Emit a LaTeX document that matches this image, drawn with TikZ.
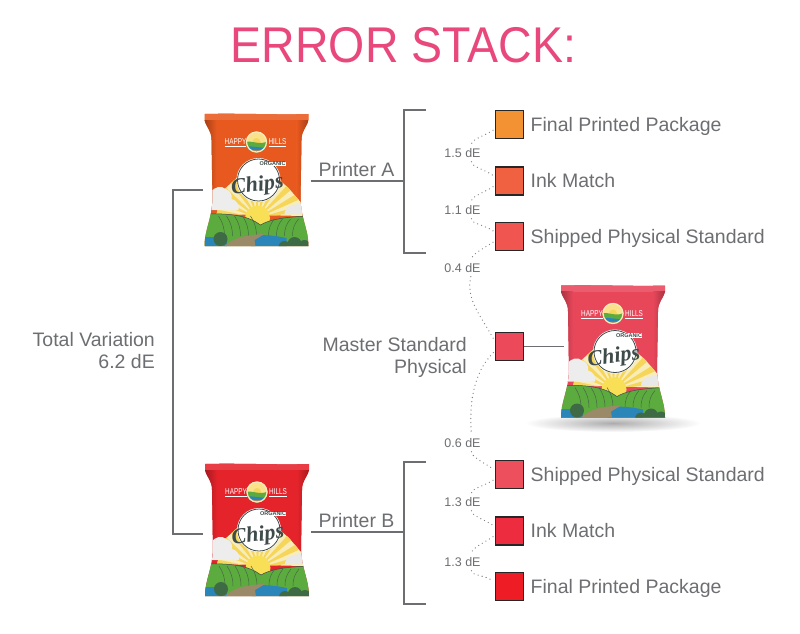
\documentclass[tikz,border=0pt]{standalone}
\usepackage{fontspec}
\setmainfont{Liberation Sans}
\newfontfamily\chipsfont{Liberation Serif}
\usepackage{xcolor}
\usetikzlibrary{positioning,calc}
\definecolor{textgray}{HTML}{6D6E71}
\definecolor{titlepink}{HTML}{E8487C}
\definecolor{hillgreen}{HTML}{5CAB3E}
\definecolor{raygold}{HTML}{F6D65A}
\definecolor{raypale}{HTML}{F8EDB8}
\definecolor{sunyellow}{HTML}{F9DF55}
\definecolor{inkdark}{HTML}{3F4A4A}
\definecolor{bagorange}{HTML}{E8591F}
\definecolor{bagred}{HTML}{E5232B}
\definecolor{bagrose}{HTML}{E8475A}
\definecolor{bushgreen}{HTML}{3E6B45}
\definecolor{waterblue}{HTML}{2A86B8}
\definecolor{roadbrown}{HTML}{9A8A68}
\newcommand{\bagoutline}{(-52,-66) .. controls (-20,-67) and (20,-65) .. (52,-66) -- (52,-60) .. controls (50,-52) and (45,-50) .. (45,-40) -- (44,20) .. controls (45,40) and (52,50) .. (52,66) -- (-52,66) .. controls (-52,50) and (-45,40) .. (-44,20) -- (-45,-40) .. controls (-45,-50) and (-50,-52) .. (-52,-60) -- cycle}
\tikzset{
    pics/chipbag/.style={code={
        \fill[#1] \bagoutline;
        \begin{scope}
            \clip \bagoutline;
            \fill[#1!88!white] (-52,-67) rectangle (52,-60);
            \shade[left color=#1!72!black, right color=#1] (-52,-60) rectangle (-40,30);
            \shade[left color=#1, right color=#1!72!black] (40,-60) rectangle (52,30);
            \begin{scope}
                \clip (-40,34) -- (-33,10) -- (0,-20) -- (32,8) -- (44,22) -- (46,36) -- cycle;
                \fill[raypale] (-46,40) rectangle (46,-22);
                \foreach \a in {8,24,...,168}
                    \fill[raygold] (1,38) -- +(-\a:70) -- +(-\a-8:70) -- cycle;
            \end{scope}
            \fill[white!86!gray] (-46,30) -- (-46,12) .. controls (-42,7) and (-35,5) .. (-31,9) .. controls (-27,10) and (-24,14) .. (-25,19) .. controls (-20,20) and (-17,25) .. (-18,30) -- cycle;
            \fill[white!82!gray] (28,34) .. controls (28,27) and (36,24) .. (46,24) -- (46,34) -- cycle;
            \fill[sunyellow] (1,38) circle (12.5);
            \fill[hillgreen] (-52,34) .. controls (-25,33) and (-8,36) .. (4,45) .. controls (12,40) and (26,37) .. (52,36) -- (52,67) -- (-52,67) -- cycle;
            \draw[inkdark, line width=0.5pt] (-52,34) .. controls (-25,33) and (-8,36) .. (4,45) .. controls (12,40) and (26,37) .. (52,36);
            \foreach \s in {-38,-30,...,-6}
                \draw[inkdark!70!hillgreen, line width=0.5pt] (\s,36) .. controls (\s+4,42) and (\s+6,48) .. (\s+6,56);
            \foreach \s in {18,26,...,44}
                \draw[inkdark!70!hillgreen, line width=0.5pt] (\s,39) .. controls (\s-4,44) and (\s-6,48) .. (\s-6,56);
            \fill[waterblue] (-52,57) rectangle (-30,67);
            \fill[waterblue] (-10,56) .. controls (10,54) and (20,56) .. (30,58) -- (30,67) -- (-5,67) -- cycle;
            \fill[roadbrown] (-33,67) .. controls (-25,59) and (-15,55) .. (8,54) -- (-2,60) -- (-1,67) -- cycle;
            \fill[bushgreen] (-36,59) circle (7);
            \fill[bushgreen] (28,67) circle (6) (38,64) circle (7) (48,66) circle (6);
        \end{scope}
        \fill[white] (2,0) circle (22);
        \draw[inkdark, line width=0.8pt] (2,0) circle (21);
        \node[font=\chipsfont\bfseries\itshape\fontsize{22}{22}\selectfont, text=inkdark, rotate=8, inner sep=0pt] (-chips) at (1,6) {Chips};
        \node[font=\bfseries\fontsize{5.5}{6}\selectfont, text=inkdark, fill=white, inner sep=0.5pt] (-organic) at (16,-16) {ORGANIC};
        \node[font=\fontsize{8.5}{9}\selectfont, text=white, xscale=0.75, inner sep=0pt] (-happy) at (-21,-37) {\underline{HAPPY}};
        \node[font=\fontsize{8.5}{9}\selectfont, text=white, xscale=0.75, inner sep=0pt] (-hills) at (21,-37) {\underline{HILLS}};
        \begin{scope}
            \clip (0,-38) circle (10.5);
            \fill[raygold!70!white] (-11,-49) rectangle (11,-27);
            \fill[raygold] (0,-38) circle (4);
            \fill[hillgreen] (-11,-38) .. controls (-4,-40) and (4,-34) .. (11,-39) -- (11,-27) -- (-11,-27) -- cycle;
            \fill[waterblue] (-11,-33) .. controls (-3,-35) and (4,-31) .. (11,-33) -- (11,-30) -- (-11,-30) -- cycle;
            \fill[roadbrown] (-11,-30) rectangle (11,-27);
        \end{scope}
        \draw[raypale, line width=1.2pt] (0,-38) circle (10);
    }}
}
\begin{document}
\begin{tikzpicture}[
    x=1pt, y=-1pt,
    swatch/.style={rectangle, draw=black!85, line width=1.5pt, minimum size=28pt, inner sep=0pt, outer sep=0pt},
    swatchtext/.style={text=textgray, inner sep=0pt, text height=16pt, text depth=3pt, font=\fontsize{19.5}{22}\selectfont},
    sidetext/.style={text=textgray, align=right, anchor=east, inner sep=0pt, font=\fontsize{19.5}{22}\selectfont},
    printertext/.style={above=0.5pt, xshift=-1pt, text=textgray, font=\fontsize{19.5}{22}\selectfont},
    delta/.style={text=textgray, inner sep=1pt, font=\fontsize{12.5}{14}\selectfont},
    bracket/.style={draw=textgray, line width=1.7pt},
    dotlink/.style={draw=gray, line width=1.3pt, dash pattern=on 0pt off 4.2pt, line cap=round, shorten <=3pt, shorten >=3pt}
]
\useasboundingbox (0,0) rectangle (800,633);

\node[text=titlepink, inner sep=0pt, yscale=1.08, font=\fontsize{46.5}{50}\selectfont] (title) at (403.5,45) {ERROR STACK:};

\shade[inner color=gray!65, outer color=white] (613,423) ellipse (88 and 9);
\pic (bagA) at (256.5,180) {chipbag=bagorange};
\pic (bagB) at (257,530) {chipbag=bagred};
\pic (bagC) at (613,351.5) {chipbag=bagrose};

\node[swatch, fill={rgb,255:red,243;green,146;blue,51}] (finalA) at (509.5,124.5) {};
\node[swatch, fill={rgb,255:red,240;green,97;blue,65}, below=28.5pt of finalA] (inkA) {};
\node[swatch, fill={rgb,255:red,240;green,86;blue,79}, below=27.5pt of inkA] (shippedA) {};
\node[swatch, fill={rgb,255:red,236;green,74;blue,90}] (master) at (509.5,346.5) {};
\node[swatch, fill={rgb,255:red,238;green,79;blue,92}] (shippedB) at (509.5,474.5) {};
\node[swatch, fill={rgb,255:red,238;green,44;blue,64}, below=28.5pt of shippedB] (inkB) {};
\node[swatch, fill={rgb,255:red,238;green,28;blue,37}, below=27.5pt of inkB] (finalB) {};

\node[swatchtext, right=7pt of finalA] (finalAtext) {Final Printed Package};
\node[swatchtext, right=7pt of inkA] (inkAtext) {Ink Match};
\node[swatchtext, right=7pt of shippedA] (shippedAtext) {Shipped Physical Standard};
\node[swatchtext, right=7pt of shippedB] (shippedBtext) {Shipped Physical Standard};
\node[swatchtext, right=7pt of inkB] (inkBtext) {Ink Match};
\node[swatchtext, right=7pt of finalB] (finalBtext) {Final Printed Package};

\node[sidetext] (total) at (155,351) {Total Variation\\6.2 dE};
\node[sidetext] (masterlabel) at (467,357) {Master Standard\\Physical};

\node[delta] (dEa) at (462.5,153) {1.5 dE};
\node[delta] (dEb) at (462.5,210) {1.1 dE};
\node[delta] (dEc) at (462.5,268) {0.4 dE};
\node[delta] (dEd) at (462.5,443) {0.6 dE};
\node[delta] (dEe) at (462.5,502) {1.3 dE};
\node[delta] (dEf) at (462.5,562) {1.3 dE};

\foreach \first/\dE/\second in {finalA/dEa/inkA, inkA/dEb/shippedA, shippedB/dEe/inkB, inkB/dEf/finalB} {
    \draw[dotlink] ([yshift=-4pt]\first.west) .. controls +(-12,8) and +(0,-8) .. ([xshift=9pt]\dE.north);
    \draw[dotlink] ([xshift=9pt]\dE.south) .. controls +(0,8) and +(-12,-8) .. ([yshift=4pt]\second.west);
}
\draw[dotlink] ([yshift=-4pt]shippedA.west) .. controls +(-12,8) and +(0,-8) .. ([xshift=9pt]dEc.north);
\draw[dotlink] ([xshift=9pt]dEc.south) .. controls +(-6,26) and +(-14,-26) .. ([yshift=4pt]master.west);
\draw[dotlink] ([yshift=-4pt]master.west) .. controls +(-24,24) and +(-2,-30) .. ([xshift=9pt]dEd.north);
\draw[dotlink] ([xshift=9pt]dEd.south) .. controls +(0,8) and +(-12,-8) .. ([yshift=4pt]shippedB.west);

\coordinate (portC) at (564,346.5);
\draw[bracket, line width=1.2pt] (master.east) -- (portC);

\coordinate (forkA) at (404,181);
\coordinate (forkB) at (404,532);
\coordinate (startA) at (311,181);
\coordinate (startB) at (311,532);
\draw[bracket] (startA) -- node[printertext] (printerA) {Printer A} (forkA);
\draw[bracket] (startB) -- node[printertext] (printerB) {Printer B} (forkB);
\draw[bracket] (426,110) -- (404,110) -- (404,253) -- (426,253);
\draw[bracket] (426,462) -- (404,462) -- (404,604) -- (426,604);
\draw[bracket] (203,190) -- (173,190) -- (173,534) -- (203,534);

\end{tikzpicture}
\end{document}
